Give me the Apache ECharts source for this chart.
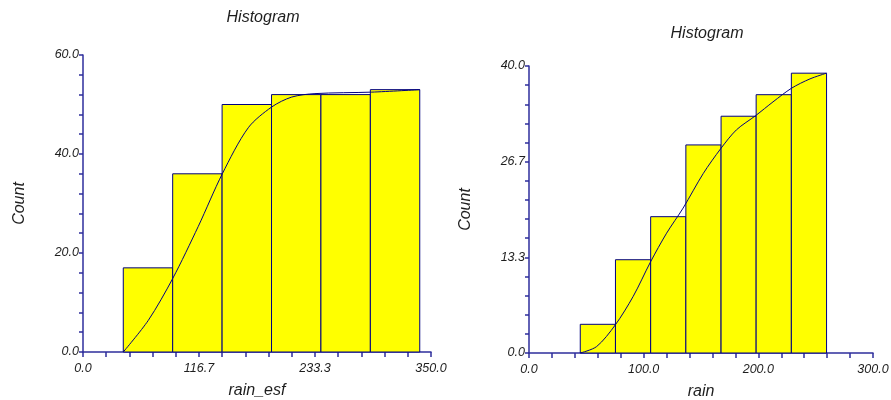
<!DOCTYPE html>
<html>
<head>
<meta charset="utf-8">
<script src="https://cdn.jsdelivr.net/npm/echarts@6/dist/echarts.min.js"></script>
<style>
html,body{margin:0;padding:0;background:#fff;}
#chart{width:891px;height:400px;}
</style>
</head>
<body>
<div id="chart"></div>
<script>
// ---- data ----
const titles = ['Histogram', 'Histogram'];
const xNames = ['rain_esf', 'rain'];
const yName = 'Count';

const leftEdges = [40.5, 90.2, 139.9, 189.6, 239.3, 289.0, 338.7];
const leftCounts = [17, 36, 50, 52, 52, 53];
const leftCurveX = [40.5, 65.7, 90.1, 116, 140.1, 166.2, 189.8, 209.9, 233.3, 290.4, 338.9];
const leftCurveY = [0, 6.4, 14.8, 25.4, 36.0, 45.3, 49.5, 51.5, 52.2, 52.5, 53.0];

const rightEdges = [44.7, 75.4, 106.1, 136.8, 167.5, 198.1, 228.8, 259.5];
const rightCounts = [4, 13, 19, 29, 33, 36, 39];
const rightCurveX = [44.7, 59, 75.2, 90.9, 106, 120, 134.4, 151.9, 167.3, 180.9, 197.8, 212.8, 228.9, 245, 259.4];
const rightCurveY = [0, 0.9, 3.9, 7.9, 12.7, 16.7, 20.2, 25.0, 28.5, 31.1, 33.1, 35.0, 36.9, 38.2, 39.0];

const leftXTicks = {min: 0, max: 350, interval: 350 / 3};
const leftYTicks = {min: 0, max: 60, interval: 20};
const rightXTicks = {min: 0, max: 300, interval: 100};
const rightYTicks = {min: 0, max: 40, interval: 40 / 3};

// ---- build ----
function binData(edges, counts) {
  return counts.map((c, i) => [edges[i], edges[i + 1], c]);
}
function pairs(xs, ys) { return xs.map((x, i) => [x, ys[i]]); }

const FONT = 'Liberation Sans, Arial, sans-serif';
const axisColor = '#2e2e9c';
const textColor = '#1e1e1e';

function renderBar(params, api) {
  const p0 = api.coord([api.value(0), api.value(2)]);
  const p1 = api.coord([api.value(1), 0]);
  return {
    type: 'rect',
    shape: {x: p0[0], y: p0[1], width: p1[0] - p0[0], height: p1[1] - p0[1]},
    style: {fill: '#ffff00', stroke: '#000080', lineWidth: 1}
  };
}

function xAxis(idx, t, name) {
  return {
    type: 'value', gridIndex: idx, min: t.min, max: t.max, interval: t.interval,
    name: name, nameLocation: 'middle', nameGap: 31,
    nameTextStyle: {fontFamily: FONT, fontStyle: 'italic', fontSize: 16, color: textColor},
    axisLine: {show: true, onZero: false, lineStyle: {color: axisColor, width: 1.5}},
    axisTick: {show: true, length: 5, lineStyle: {color: axisColor, width: 1.5}},
    minorTick: {show: true, splitNumber: 5, length: 5, lineStyle: {color: axisColor, width: 1.5}},
    splitLine: {show: false},
    axisLabel: {fontFamily: FONT, fontStyle: 'italic', fontSize: 12.5, color: textColor, margin: 10,
      formatter: v => v.toFixed(1)}
  };
}
function yAxis(idx, t) {
  return {
    type: 'value', gridIndex: idx, min: t.min, max: t.max, interval: t.interval,
    name: yName, nameLocation: 'middle', nameGap: 55, nameRotate: 90,
    nameTextStyle: {fontFamily: FONT, fontStyle: 'italic', fontSize: 16, color: textColor},
    axisLine: {show: true, onZero: false, lineStyle: {color: axisColor, width: 1.5}},
    axisTick: {show: true, length: 4, lineStyle: {color: axisColor, width: 1.5}},
    minorTick: {show: true, splitNumber: 5, length: 4, lineStyle: {color: axisColor, width: 1.5}},
    splitLine: {show: false},
    axisLabel: {fontFamily: FONT, fontStyle: 'italic', fontSize: 12.5, color: textColor, margin: 4,
      formatter: v => v.toFixed(1)}
  };
}

const chart = echarts.init(document.getElementById('chart'), null, {renderer: 'canvas'});
chart.setOption({
  animation: false,
  backgroundColor: '#fff',
  title: [
    {text: titles[0], left: 258, top: 5, textAlign: 'center',
      textStyle: {fontFamily: FONT, fontStyle: 'italic', fontWeight: 'normal', fontSize: 16, color: textColor}},
    {text: titles[1], left: 702, top: 21, textAlign: 'center',
      textStyle: {fontFamily: FONT, fontStyle: 'italic', fontWeight: 'normal', fontSize: 16, color: textColor}}
  ],
  grid: [
    {left: 83, top: 55, width: 348, height: 297, outerBoundsMode: 'none', containLabel: false},
    {left: 529, top: 66, width: 344, height: 287, outerBoundsMode: 'none', containLabel: false}
  ],
  xAxis: [xAxis(0, leftXTicks, xNames[0]), xAxis(1, rightXTicks, xNames[1])],
  yAxis: [yAxis(0, leftYTicks), yAxis(1, rightYTicks)],
  series: [
    {type: 'custom', xAxisIndex: 0, yAxisIndex: 0, renderItem: renderBar,
      encode: {x: [0, 1], y: 2}, data: binData(leftEdges, leftCounts), z: 2},
    {type: 'line', xAxisIndex: 0, yAxisIndex: 0, data: pairs(leftCurveX, leftCurveY),
      smooth: 0.3, showSymbol: false, lineStyle: {color: '#000080', width: 1}, z: 3},
    {type: 'custom', xAxisIndex: 1, yAxisIndex: 1, renderItem: renderBar,
      encode: {x: [0, 1], y: 2}, data: binData(rightEdges, rightCounts), z: 2},
    {type: 'line', xAxisIndex: 1, yAxisIndex: 1, data: pairs(rightCurveX, rightCurveY),
      smooth: 0.3, showSymbol: false, lineStyle: {color: '#000080', width: 1}, z: 3}
  ]
});
</script>
</body>
</html>
